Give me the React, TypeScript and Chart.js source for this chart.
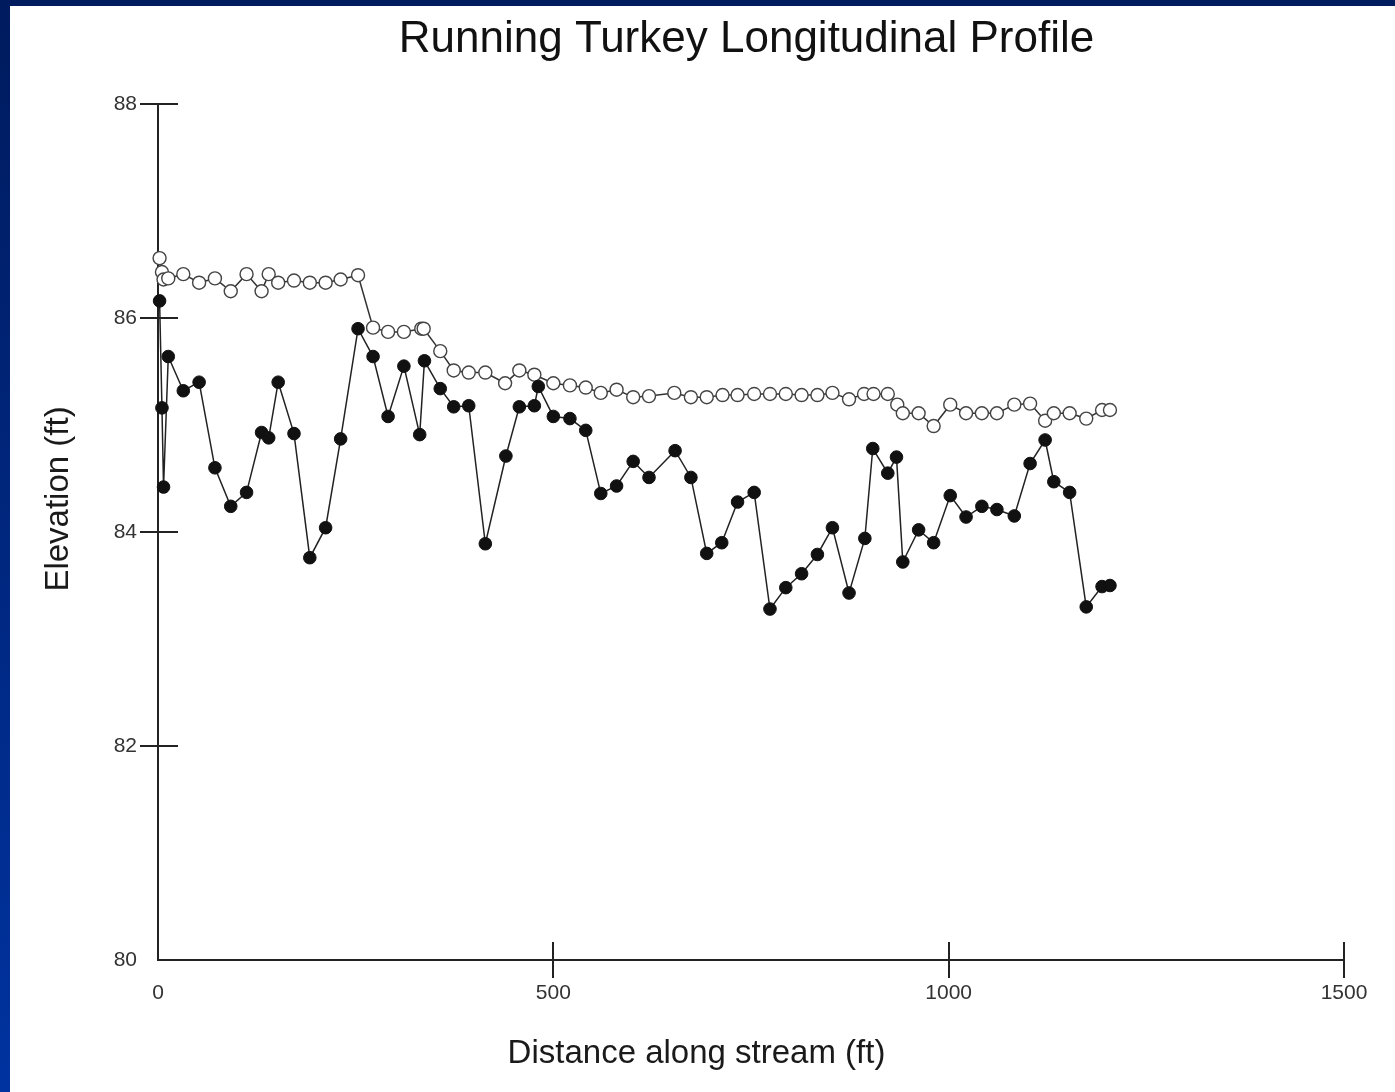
import { useEffect, useRef } from "react";
import { Chart, registerables } from "chart.js";

Chart.register(...registerables);

const CHART_TITLE = "Running Turkey Longitudinal Profile";
const X_TITLE = "Distance along stream (ft)";
const Y_TITLE = "Elevation (ft)";

const xTicks = [0, 500, 1000, 1500];
const yTicks = [80, 82, 84, 86, 88];

// Water surface (open circles)
const distOpen = [2, 5, 7, 13, 32, 52, 72, 92, 112, 131, 140, 152, 172, 192, 212, 231, 253, 272, 291, 311, 333, 336, 357, 374, 393, 414, 439, 457, 476, 500, 521, 541, 560, 580, 601, 621, 653, 674, 694, 714, 733, 754, 774, 794, 814, 834, 853, 874, 893, 905, 923, 935, 942, 962, 981, 1002, 1022, 1042, 1061, 1083, 1103, 1122, 1133, 1153, 1174, 1194, 1204];
const elevOpen = [86.56, 86.43, 86.36, 86.37, 86.41, 86.33, 86.37, 86.25, 86.41, 86.25, 86.41, 86.33, 86.35, 86.33, 86.33, 86.36, 86.40, 85.91, 85.87, 85.87, 85.90, 85.90, 85.69, 85.51, 85.49, 85.49, 85.39, 85.51, 85.47, 85.39, 85.37, 85.35, 85.30, 85.33, 85.26, 85.27, 85.30, 85.26, 85.26, 85.28, 85.28, 85.29, 85.29, 85.29, 85.28, 85.28, 85.30, 85.24, 85.29, 85.29, 85.29, 85.19, 85.11, 85.11, 84.99, 85.19, 85.11, 85.11, 85.11, 85.19, 85.20, 85.04, 85.11, 85.11, 85.06, 85.14, 85.14];

// Thalweg / bed (filled circles)
const distFilled = [2, 5, 7, 13, 32, 52, 72, 92, 112, 131, 140, 152, 172, 192, 212, 231, 253, 272, 291, 311, 331, 337, 357, 374, 393, 414, 440, 457, 476, 481, 500, 521, 541, 560, 580, 601, 621, 654, 674, 694, 713, 733, 754, 774, 794, 814, 834, 853, 874, 894, 904, 923, 934, 942, 962, 981, 1002, 1022, 1042, 1061, 1083, 1103, 1122, 1133, 1153, 1174, 1194, 1204];
const elevFilled = [86.16, 85.16, 84.42, 85.64, 85.32, 85.40, 84.60, 84.24, 84.37, 84.93, 84.88, 85.40, 84.92, 83.76, 84.04, 84.87, 85.90, 85.64, 85.08, 85.55, 84.91, 85.60, 85.34, 85.17, 85.18, 83.89, 84.71, 85.17, 85.18, 85.36, 85.08, 85.06, 84.95, 84.36, 84.43, 84.66, 84.51, 84.76, 84.51, 83.80, 83.90, 84.28, 84.37, 83.28, 83.48, 83.61, 83.79, 84.04, 83.43, 83.94, 84.78, 84.55, 84.70, 83.72, 84.02, 83.90, 84.34, 84.14, 84.24, 84.21, 84.15, 84.64, 84.86, 84.47, 84.37, 83.30, 83.49, 83.50];

const FONT = "'Liberation Sans', Arial, Helvetica, sans-serif";

export default function App() {
  const ref = useRef<HTMLCanvasElement>(null);

  useEffect(() => {
    document.body.style.overflow = "hidden";
    const canvas = ref.current;
    if (!canvas) return;

    const decor = {
      id: "decor",
      afterDraw(chart: any) {
        const ctx = chart.ctx;
        const xs = chart.scales.x;
        const ys = chart.scales.y;
        const area = chart.chartArea;
        ctx.save();
        ctx.strokeStyle = "#222";
        ctx.lineWidth = 2;
        ctx.beginPath();
        for (const v of yTicks) {
          if (v === ys.min) continue;
          const py = Math.round(ys.getPixelForValue(v));
          ctx.moveTo(area.left - 18, py);
          ctx.lineTo(area.left + 20, py);
        }
        for (const v of xTicks) {
          if (v === xs.min) continue;
          const px = Math.round(xs.getPixelForValue(v));
          ctx.moveTo(px, area.bottom - 18);
          ctx.lineTo(px, area.bottom + 18);
        }
        ctx.stroke();

        ctx.fillStyle = "#111";
        ctx.textAlign = "center";
        ctx.textBaseline = "alphabetic";
        ctx.font = `44px ${FONT}`;
        ctx.fillText(CHART_TITLE, 736.5, 46);

        ctx.fillStyle = "#1a1a1a";
        ctx.font = `33px ${FONT}`;
        ctx.fillText(X_TITLE, 686.5, 1057);

        ctx.translate(58, 493);
        ctx.rotate(-Math.PI / 2);
        ctx.fillText(Y_TITLE, 0, 0);
        ctx.restore();
      },
    };

    const chart = new Chart(canvas, {
      type: "line",
      data: {
        datasets: [
          {
            label: "Bed",
            data: distFilled.map((d, i) => ({ x: d, y: elevFilled[i] })),
            borderColor: "#222",
            borderWidth: 1.5,
            pointRadius: 6.3,
            pointBorderWidth: 1,
            pointBackgroundColor: "#111",
            pointBorderColor: "#111",
            tension: 0,
            clip: false as any,
          },
          {
            label: "Water surface",
            data: distOpen.map((d, i) => ({ x: d, y: elevOpen[i] })),
            borderColor: "#333",
            borderWidth: 1.5,
            pointRadius: 6.5,
            pointBorderWidth: 1.4,
            pointBackgroundColor: "#fff",
            pointBorderColor: "#444",
            tension: 0,
            clip: false as any,
          },
        ],
      },
      options: {
        animation: false,
        responsive: false,
        maintainAspectRatio: false,
        layout: { padding: { left: 0, top: 98, right: 51, bottom: 0 } },
        plugins: {
          legend: { display: false },
          tooltip: { enabled: false },
          title: { display: false },
        },
        scales: {
          x: {
            type: "linear",
            min: 0,
            max: 1500,
            afterBuildTicks: (s: any) => {
              s.ticks = xTicks.map((v) => ({ value: v }));
            },
            afterFit: (s: any) => {
              s.height = 132;
            },
            grid: { display: false, drawTicks: false },
            border: { display: true, color: "#222", width: 2 },
            ticks: {
              padding: 21,
              color: "#333",
              font: { family: FONT, size: 21 },
              maxRotation: 0,
              autoSkip: false,
              callback: (v: any) => String(v),
            },
          },
          y: {
            type: "linear",
            min: 80,
            max: 88,
            afterBuildTicks: (s: any) => {
              s.ticks = yTicks.map((v) => ({ value: v }));
            },
            afterFit: (s: any) => {
              s.width = 148;
            },
            grid: { display: false, drawTicks: false },
            border: { display: true, color: "#222", width: 2 },
            ticks: {
              padding: 21,
              color: "#333",
              font: { family: FONT, size: 21 },
              autoSkip: false,
              callback: (v: any) => String(v),
            },
          },
        },
      },
      plugins: [decor],
    });

    return () => chart.destroy();
  }, []);

  return (
    <div
      style={{
        position: "absolute",
        left: 0,
        top: 0,
        width: 1395,
        height: 1092,
        background: "linear-gradient(to bottom, #001b5e 0%, #0033a0 100%)",
        overflow: "hidden",
      }}
    >
      <div
        style={{
          position: "absolute",
          left: 10,
          top: 6,
          width: 1385,
          height: 1086,
          background: "#ffffff",
        }}
      >
        <canvas ref={ref} width={1385} height={1086} style={{ display: "block" }} />
      </div>
    </div>
  );
}
